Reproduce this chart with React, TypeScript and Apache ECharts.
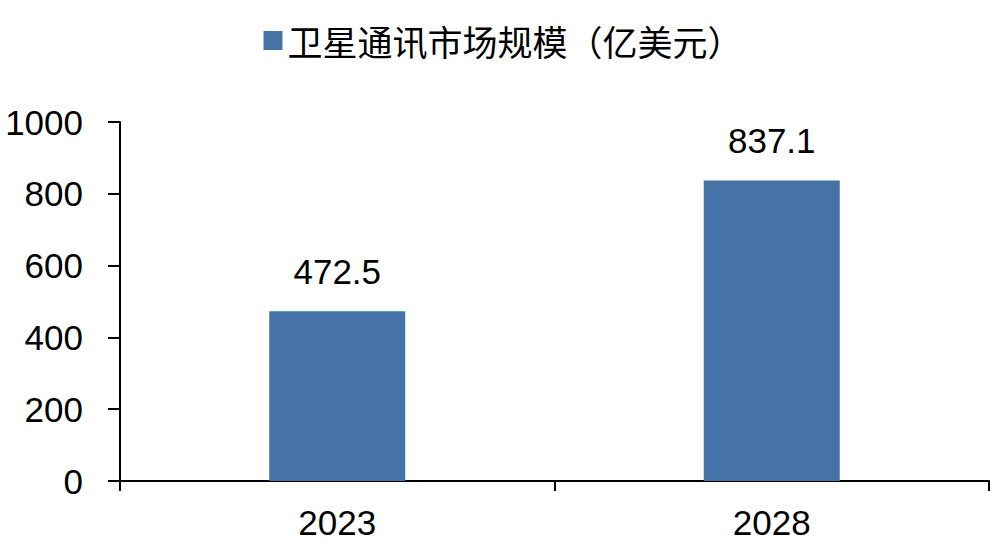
import React, { useEffect, useRef } from "react";
import * as echarts from "echarts";

const categories = ["2023", "2028"];
const marketSize = [472.5, 837.1];
const seriesName = "卫星通讯市场规模（亿美元）";
const yTicks = { min: 0, max: 1000, interval: 200 };

export default function App() {
  const ref = useRef<HTMLDivElement>(null);
  useEffect(() => {
    document.body.style.margin = "0";
    const chart = echarts.init(ref.current!, null, { renderer: "svg" });
    chart.setOption({
      animation: false,
      backgroundColor: "#ffffff",
      legend: {
        top: 18,
        left: "center",
        itemWidth: 19,
        itemHeight: 19,
        itemGap: 11,
        icon: "rect",
        textStyle: {
          fontFamily: "Noto Sans CJK SC",
          fontSize: 35,
          color: "#000",
        },
        data: [seriesName],
      },
      grid: { left: 120, right: 17, top: 122, bottom: 75 },
      xAxis: {
        type: "category",
        data: categories,
        boundaryGap: true,
        axisLine: { lineStyle: { color: "#000", width: 2 } },
        axisTick: { show: true, length: 10, lineStyle: { color: "#000", width: 2 } },
        axisLabel: {
          fontFamily: "Liberation Sans",
          fontSize: 35,
          color: "#000",
          margin: 24,
        },
      },
      yAxis: {
        type: "value",
        min: yTicks.min,
        max: yTicks.max,
        interval: yTicks.interval,
        axisLine: { show: true, lineStyle: { color: "#000", width: 2 } },
        axisTick: { show: true, length: 12, lineStyle: { color: "#000", width: 2 } },
        splitLine: { show: false },
        axisLabel: {
          fontFamily: "Liberation Sans",
          fontSize: 35,
          color: "#000",
          margin: 37,
          formatter: (v: number) => String(v),
        },
      },
      series: [
        {
          name: seriesName,
          type: "bar",
          data: marketSize,
          barWidth: "31.3%",
          itemStyle: { color: "#4673A7" },
          label: {
            show: true,
            position: "top",
            distance: 22,
            fontFamily: "Liberation Sans",
            fontSize: 35,
            color: "#000",
            formatter: (p: any) => p.value.toFixed(1),
          },
        },
      ],
    });
    return () => chart.dispose();
  }, []);
  return <div ref={ref} style={{ width: 1006, height: 556 }} />;
}
